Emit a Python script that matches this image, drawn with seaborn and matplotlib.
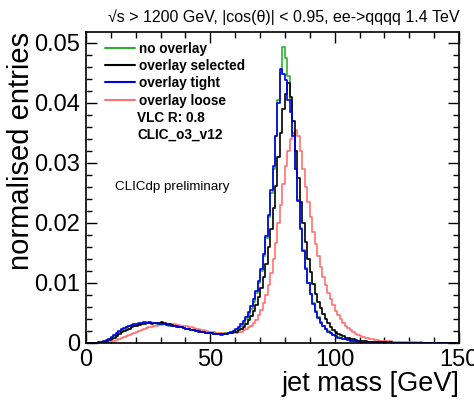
import numpy as np
import pandas as pd
import matplotlib
matplotlib.use("Agg")
import matplotlib.pyplot as plt
import seaborn as sns
from matplotlib.lines import Line2D
from matplotlib.ticker import MultipleLocator, FuncFormatter

# 1 GeV bins from 0 to 150 GeV, bin contents in units of 1e-4
bin_edges = np.arange(0, 151, 1)

no_overlay = [
    0, 0, 0, 0, 0, 1, 2, 3, 4, 6,
    9, 12, 15, 18, 21, 24, 26, 28, 29, 30,
    31, 32, 33, 33, 34, 33, 33, 33, 32, 32,
    31, 31, 30, 29, 29, 28, 27, 26, 26, 25,
    24, 23, 22, 21, 21, 20, 19, 18, 17, 17,
    16, 16, 15, 15, 15, 15, 16, 17, 18, 20,
    22, 25, 29, 34, 40, 48, 57, 69, 83, 100,
    120, 145, 175, 210, 250, 290, 345, 405, 450, 493,
    475, 445, 405, 350, 290, 238, 192, 155, 125, 100,
    82, 66, 53, 43, 35, 29, 24, 20, 17, 14,
    12, 10, 8, 7, 6, 5, 4, 4, 3, 3,
    2, 2, 2, 1, 1, 1, 1, 1, 1, 0,
    1, 0, 0, 0, 0, 0, 0, 0, 0, 0,
    0, 0, 0, 0, 0, 0, 0, 0, 0, 0,
    0, 0, 0, 0, 0, 0, 0, 0, 0, 0,
]

overlay_selected = [
    0, 0, 0, 0, 0, 0, 1, 2, 3, 5,
    7, 9, 12, 15, 18, 20, 22, 24, 26, 28,
    29, 30, 31, 32, 33, 33, 32, 33, 33, 34,
    35, 34, 32, 31, 30, 29, 28, 27, 26, 25,
    24, 23, 22, 21, 20, 19, 19, 18, 17, 16,
    16, 15, 15, 15, 15, 15, 15, 16, 17, 18,
    19, 21, 24, 27, 32, 38, 45, 54, 64, 77,
    92, 110, 132, 160, 190, 225, 262, 310, 350, 390,
    415, 433, 410, 370, 320, 275, 235, 200, 168, 140,
    118, 98, 82, 69, 58, 48, 40, 33, 27, 22,
    18, 15, 13, 11, 9, 8, 7, 6, 5, 4,
    4, 3, 3, 2, 2, 2, 1, 1, 1, 1,
    1, 0, 1, 0, 0, 0, 0, 0, 0, 0,
    0, 0, 0, 0, 0, 0, 0, 0, 0, 0,
    0, 0, 0, 0, 0, 0, 0, 0, 0, 0,
]

overlay_tight = [
    0, 0, 0, 0, 0, 1, 2, 3, 5, 7,
    10, 13, 17, 20, 23, 25, 27, 29, 30, 31,
    32, 33, 34, 35, 34, 35, 34, 33, 33, 32,
    32, 31, 30, 30, 29, 28, 27, 27, 26, 25,
    24, 23, 22, 21, 20, 20, 19, 18, 17, 16,
    16, 15, 15, 15, 14, 15, 15, 16, 18, 20,
    23, 26, 31, 36, 43, 51, 61, 73, 87, 104,
    124, 149, 179, 214, 255, 295, 345, 400, 457, 448,
    438, 405, 385, 345, 290, 236, 190, 153, 124, 100,
    81, 65, 52, 42, 34, 28, 23, 19, 16, 13,
    11, 9, 8, 7, 6, 5, 4, 3, 3, 2,
    2, 2, 1, 1, 1, 1, 1, 0, 1, 0,
    0, 0, 0, 0, 0, 0, 0, 0, 0, 0,
    0, 0, 0, 0, 0, 0, 0, 0, 0, 0,
    0, 0, 0, 0, 0, 0, 0, 0, 0, 0,
]

overlay_loose = [
    0, 0, 0, 0, 0, 0, 0, 0, 1, 2,
    3, 4, 5, 6, 8, 10, 11, 13, 15, 17,
    18, 20, 22, 23, 25, 26, 27, 28, 29, 30,
    30, 31, 31, 31, 31, 31, 30, 30, 29, 29,
    28, 27, 26, 25, 24, 23, 22, 21, 20, 19,
    19, 18, 17, 17, 16, 16, 16, 16, 16, 17,
    17, 18, 19, 21, 23, 26, 29, 33, 39, 46,
    55, 66, 80, 97, 117, 140, 167, 200, 230, 265,
    295, 320, 340, 348, 355, 345, 320, 290, 260, 235,
    210, 185, 165, 145, 127, 110, 96, 84, 73, 63,
    54, 47, 40, 34, 29, 25, 21, 18, 15, 13,
    11, 10, 9, 8, 7, 6, 5, 5, 4, 4,
    3, 3, 3, 2, 2, 2, 2, 1, 1, 1,
    1, 1, 1, 0, 1, 0, 0, 0, 0, 0,
    0, 0, 0, 0, 0, 0, 0, 0, 0, 0,
]

labels = ["no overlay", "overlay selected", "overlay tight", "overlay loose"]
colors = ["#30b030", "#000000", "#0000ee", "#ff7272"]
series = [no_overlay, overlay_selected, overlay_tight, overlay_loose]

centers = 0.5 * (bin_edges[:-1] + bin_edges[1:])
df = pd.concat(
    [pd.DataFrame({"mass": centers, "entries": np.array(v) * 1e-4, "sample": lab})
     for v, lab in zip(series, labels)],
    ignore_index=True,
)

sns.set_theme(style="ticks")
plt.rcParams["font.family"] = ["Liberation Sans", "DejaVu Sans"]
plt.rcParams.update({
    "text.color": "black", "axes.labelcolor": "black",
    "xtick.color": "black", "ytick.color": "black",
    "xtick.direction": "in", "ytick.direction": "in",
    "xtick.top": True, "ytick.right": True,
})

fig = plt.figure(figsize=(4.74, 4.03), dpi=100)
ax = fig.add_axes([0.1814, 0.1489, 0.787, 0.7717])

# draw order: loose, no overlay, selected, tight on top
for lab in ["overlay loose", "no overlay", "overlay selected", "overlay tight"]:
    col = colors[labels.index(lab)]
    sns.histplot(data=df[df["sample"] == lab], x="mass", weights="entries",
                 binwidth=1, binrange=(0, 150), element="step", fill=False,
                 color=col, linewidth=1.2, ax=ax)

ax.set_xlim(0, 150)
ax.set_ylim(0, 0.0518)
ax.xaxis.set_major_locator(MultipleLocator(50))
ax.xaxis.set_minor_locator(MultipleLocator(10))
ax.yaxis.set_major_locator(MultipleLocator(0.01))
ax.yaxis.set_minor_locator(MultipleLocator(0.002))
ax.yaxis.set_major_formatter(FuncFormatter(lambda v, p: "0" if abs(v) < 1e-9 else f"{v:.2f}"))
ax.tick_params(which="both", direction="in", top=True, right=True, colors="black",
               labelsize=17, width=1.0)
ax.tick_params(which="major", length=8, pad=4)
ax.tick_params(which="minor", length=4.5)
for s in ax.spines.values():
    s.set_linewidth(1.2)
    s.set_color("black")

ax.set_xlabel("jet mass [GeV]", fontsize=19.5, loc="right", labelpad=0)
ax.set_ylabel("normalised entries", fontsize=21, loc="top", labelpad=0)

ax.set_title("√s > 1200 GeV, |cos(θ)| < 0.95, ee->qqqq 1.4 TeV",
             fontsize=11.5, loc="right", pad=7)

handles = [Line2D([], [], color=c, linewidth=1.5) for c in colors]
leg = ax.legend(handles, labels, loc="upper left", bbox_to_anchor=(0.03, 0.995),
                frameon=False, prop={"weight": "bold", "size": 9.8},
                handlelength=2.2, handletextpad=0.25, labelspacing=0.24,
                borderaxespad=0.2)

ax.text(0.138, 0.724, "VLC R: 0.8", transform=ax.transAxes, fontsize=9.8,
        fontweight="bold", va="center", ha="left")
ax.text(0.138, 0.669, "CLIC_o3_v12", transform=ax.transAxes, fontsize=9.8,
        fontweight="bold", va="center", ha="left")
ax.text(0.078, 0.5, "CLICdp preliminary", transform=ax.transAxes, fontsize=9.6,
        va="center", ha="left")

fig.savefig("out.png", dpi=100)
